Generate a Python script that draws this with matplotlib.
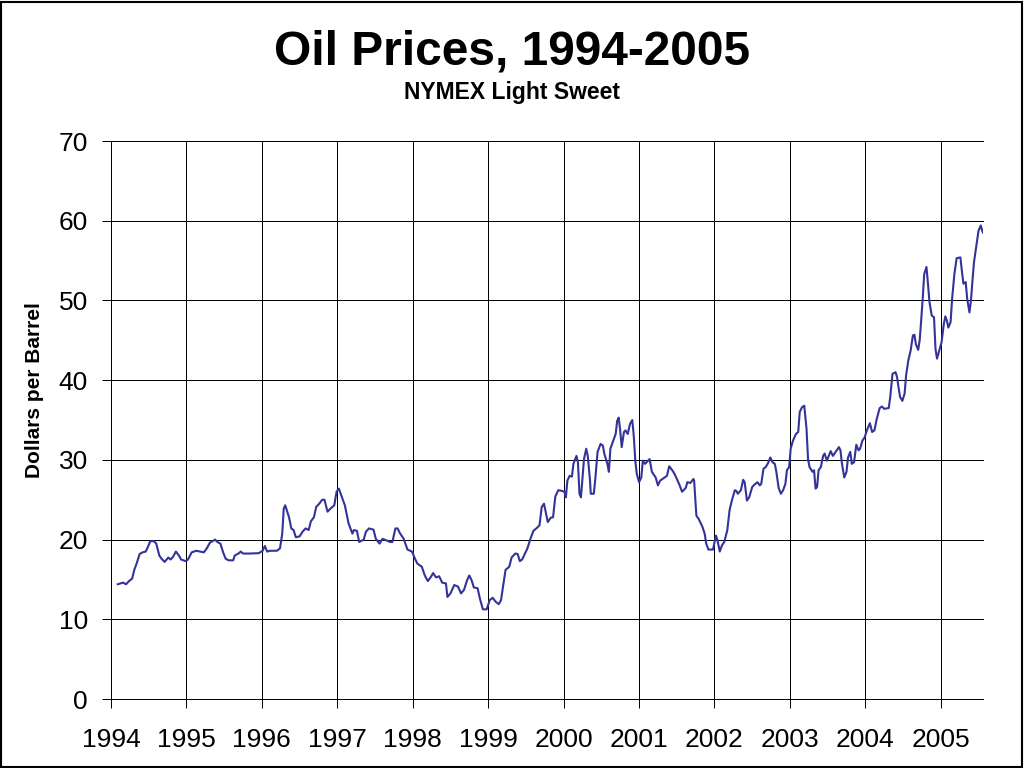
import matplotlib.pyplot as plt
from matplotlib.patches import Rectangle

plt.rcParams["font.family"] = ["Liberation Sans", "DejaVu Sans"]

# decimal year, price in $/barrel
years = [
    1994.09, 1994.16, 1994.20, 1994.24, 1994.28, 1994.31, 1994.34, 1994.38, 1994.42, 1994.46,
    1994.49, 1994.52, 1994.57, 1994.60, 1994.64, 1994.67, 1994.71, 1994.76, 1994.79, 1994.82,
    1994.86, 1994.90, 1994.93, 1994.99, 1995.02, 1995.07, 1995.13, 1995.18, 1995.23, 1995.27,
    1995.31, 1995.38, 1995.41, 1995.45, 1995.49, 1995.52, 1995.56, 1995.62, 1995.64, 1995.69,
    1995.72, 1995.75, 1995.84, 1995.96, 1996.01, 1996.04, 1996.07, 1996.11, 1996.20, 1996.24,
    1996.27, 1996.29, 1996.31, 1996.33, 1996.36, 1996.39, 1996.42, 1996.45, 1996.50, 1996.54,
    1996.58, 1996.62, 1996.65, 1996.69, 1996.72, 1996.76, 1996.80, 1996.83, 1996.87, 1996.91,
    1996.96, 1996.99, 1997.02, 1997.05, 1997.10, 1997.15, 1997.18, 1997.20, 1997.22, 1997.26,
    1997.29, 1997.35, 1997.38, 1997.42, 1997.48, 1997.51, 1997.56, 1997.60, 1997.65, 1997.70,
    1997.73, 1997.77, 1997.80, 1997.83, 1997.88, 1997.93, 1997.99, 1998.03, 1998.06, 1998.12,
    1998.16, 1998.20, 1998.24, 1998.27, 1998.31, 1998.35, 1998.39, 1998.44, 1998.46, 1998.50,
    1998.55, 1998.60, 1998.64, 1998.68, 1998.72, 1998.75, 1998.78, 1998.81, 1998.86, 1998.89,
    1998.93, 1998.98, 1999.02, 1999.06, 1999.10, 1999.14, 1999.17, 1999.20, 1999.23, 1999.28,
    1999.31, 1999.36, 1999.39, 1999.42, 1999.45, 1999.49, 1999.52, 1999.56, 1999.60, 1999.65,
    1999.68, 1999.71, 1999.74, 1999.79, 1999.83, 1999.86, 1999.89, 1999.93, 1999.98, 2000.01,
    2000.03, 2000.05, 2000.08, 2000.11, 2000.13, 2000.17, 2000.19, 2000.21, 2000.23, 2000.27,
    2000.30, 2000.32, 2000.35, 2000.36, 2000.40, 2000.42, 2000.45, 2000.49, 2000.52, 2000.54,
    2000.58, 2000.60, 2000.62, 2000.65, 2000.69, 2000.71, 2000.73, 2000.75, 2000.77, 2000.80,
    2000.82, 2000.85, 2000.88, 2000.91, 2000.93, 2000.95, 2000.97, 2001.00, 2001.03, 2001.05,
    2001.08, 2001.12, 2001.14, 2001.17, 2001.22, 2001.25, 2001.28, 2001.34, 2001.37, 2001.40,
    2001.44, 2001.47, 2001.53, 2001.57, 2001.62, 2001.64, 2001.68, 2001.72, 2001.73, 2001.76,
    2001.79, 2001.84, 2001.87, 2001.89, 2001.92, 2001.98, 2002.02, 2002.04, 2002.07, 2002.10,
    2002.13, 2002.17, 2002.20, 2002.23, 2002.27, 2002.29, 2002.31, 2002.35, 2002.38, 2002.40,
    2002.43, 2002.46, 2002.50, 2002.53, 2002.57, 2002.60, 2002.62, 2002.65, 2002.68, 2002.71,
    2002.74, 2002.77, 2002.80, 2002.82, 2002.85, 2002.88, 2002.91, 2002.94, 2002.96, 2002.99,
    2003.01, 2003.04, 2003.08, 2003.11, 2003.13, 2003.16, 2003.19, 2003.22, 2003.24, 2003.26,
    2003.30, 2003.32, 2003.34, 2003.36, 2003.38, 2003.41, 2003.44, 2003.46, 2003.49, 2003.54,
    2003.57, 2003.62, 2003.65, 2003.67, 2003.69, 2003.72, 2003.75, 2003.77, 2003.80, 2003.82,
    2003.85, 2003.88, 2003.91, 2003.93, 2003.96, 2003.99, 2004.02, 2004.06, 2004.09, 2004.12,
    2004.15, 2004.19, 2004.22, 2004.25, 2004.31, 2004.33, 2004.36, 2004.40, 2004.42, 2004.44,
    2004.46, 2004.49, 2004.52, 2004.54, 2004.57, 2004.60, 2004.63, 2004.65, 2004.67, 2004.70,
    2004.72, 2004.74, 2004.76, 2004.78, 2004.81, 2004.83, 2004.85, 2004.88, 2004.91, 2004.93,
    2004.95, 2004.98, 2005.01, 2005.04, 2005.06, 2005.08, 2005.10, 2005.13, 2005.15, 2005.18,
    2005.21, 2005.26, 2005.28, 2005.30, 2005.33, 2005.35, 2005.38, 2005.40, 2005.42, 2005.44,
    2005.48, 2005.50, 2005.53, 2005.55, 2005.56,
]
prices = [
    14.4, 14.6, 14.4, 14.8, 15.1, 16.25, 17.0, 18.2, 18.4, 18.5,
    19.1, 19.8, 19.8, 19.5, 18.0, 17.6, 17.2, 17.75, 17.5, 17.8,
    18.5, 18.0, 17.5, 17.3, 17.5, 18.4, 18.6, 18.5, 18.4, 18.9,
    19.6, 20.0, 19.7, 19.5, 18.3, 17.6, 17.4, 17.4, 18.0, 18.25,
    18.5, 18.25, 18.25, 18.3, 18.6, 19.2, 18.5, 18.6, 18.6, 18.9,
    20.75, 23.9, 24.3, 23.7, 22.8, 21.4, 21.2, 20.3, 20.4, 21.0,
    21.4, 21.2, 22.3, 22.8, 24.1, 24.5, 25.0, 25.0, 23.5, 23.9,
    24.3, 26.0, 26.4, 25.6, 24.3, 22.0, 21.25, 20.75, 21.2, 21.1,
    19.7, 20.0, 21.0, 21.4, 21.25, 20.1, 19.5, 20.1, 19.9, 19.7,
    19.7, 21.4, 21.4, 20.8, 20.1, 18.75, 18.5, 17.6, 17.0, 16.6,
    15.5, 14.8, 15.3, 15.8, 15.25, 15.4, 14.6, 14.5, 12.8, 13.25,
    14.3, 14.1, 13.25, 13.7, 14.9, 15.5, 14.9, 14.0, 13.9, 12.6,
    11.25, 11.25, 12.4, 12.7, 12.2, 11.9, 12.4, 14.3, 16.2, 16.6,
    17.75, 18.25, 18.2, 17.3, 17.5, 18.3, 18.9, 20.1, 21.1, 21.5,
    21.8, 24.1, 24.5, 22.2, 22.75, 22.8, 25.4, 26.2, 26.1, 26.0,
    25.3, 27.4, 28.0, 27.9, 29.5, 30.5, 29.7, 25.75, 25.3, 30.1,
    31.4, 30.5, 27.4, 25.75, 25.75, 27.6, 31.0, 32.0, 31.8, 30.75,
    29.5, 28.5, 31.4, 32.2, 33.25, 34.9, 35.3, 33.7, 31.6, 33.5,
    33.7, 33.25, 34.5, 35.0, 33.0, 29.9, 28.25, 27.2, 27.8, 29.9,
    29.5, 29.9, 30.1, 28.5, 27.8, 26.8, 27.4, 27.8, 28.0, 29.2,
    28.7, 28.25, 27.0, 26.0, 26.5, 27.2, 27.1, 27.6, 27.4, 23.0,
    22.6, 21.6, 20.75, 19.5, 18.75, 18.75, 20.5, 19.9, 18.5, 19.3,
    19.7, 21.2, 23.7, 24.9, 26.2, 26.1, 25.75, 26.2, 27.5, 27.2,
    24.9, 25.3, 26.6, 26.9, 27.2, 26.8, 27.0, 28.9, 29.1, 29.6,
    30.3, 29.7, 29.5, 28.5, 26.5, 25.75, 26.2, 27.0, 28.7, 29.1,
    31.4, 32.4, 33.25, 33.5, 36.0, 36.6, 36.8, 33.9, 30.1, 29.1,
    28.5, 28.7, 26.4, 26.6, 28.7, 29.1, 30.5, 30.8, 29.9, 31.1,
    30.5, 31.2, 31.6, 31.2, 29.5, 27.8, 28.5, 30.3, 31.0, 29.5,
    29.7, 31.9, 31.2, 31.4, 32.4, 32.8, 33.7, 34.6, 33.5, 33.7,
    35.1, 36.5, 36.7, 36.4, 36.5, 37.9, 40.8, 41.0, 40.4, 39.1,
    37.9, 37.4, 38.3, 40.6, 42.5, 43.7, 45.6, 45.7, 44.5, 43.8,
    45.0, 47.5, 50.2, 53.3, 54.2, 52.1, 49.8, 48.1, 47.9, 43.9,
    42.7, 43.7, 44.75, 47.05, 48.0, 47.5, 46.6, 47.3, 50.2, 53.3,
    55.3, 55.4, 53.65, 52.1, 52.3, 50.2, 48.5, 50.0, 52.5, 54.8,
    57.5, 58.75, 59.4, 58.7, 58.5,
]
year_ticks = list(range(1994, 2006))
price_ticks = list(range(0, 71, 10))

fig = plt.figure(figsize=(10.24, 7.68), dpi=100, facecolor="white")
ax = fig.add_axes([0.1084, 0.0898, 0.8516, 0.7266])

ax.plot(years, prices, color="#333399", linewidth=1.5)

ax.set_xlim(1994, years[-1])
ax.set_ylim(0, 70)
ax.set_xticks(year_ticks)
ax.set_xticklabels([str(y) for y in year_ticks])
ax.set_yticks(price_ticks)
ax.grid(True, color="black", linewidth=0.72, antialiased=False)
ax.set_axisbelow(True)
# keep the edge gridlines (0, 70, 1994) whole
for gl in ax.get_xgridlines() + ax.get_ygridlines():
    gl.set_clip_on(False)
for s in ax.spines.values():
    s.set_visible(False)
ax.tick_params(axis="both", length=6.5, width=0.72, color="black", labelsize=19)
ax.tick_params(axis="x", pad=14)
ax.tick_params(axis="y", pad=10)

fig.text(0.5, 1 - 65 / 768, "Oil Prices, 1994-2005", ha="center", va="baseline",
         fontsize=34.5, fontweight="bold")
fig.text(0.5, 1 - 99 / 768, "NYMEX Light Sweet", ha="center", va="baseline",
         fontsize=16.5, fontweight="bold")
fig.text(35 / 1024, 1 - 390 / 768, "Dollars per Barrel", rotation=90, ha="center",
         va="center", fontsize=15, fontweight="bold")

# black frame around the whole picture
fig.patches.append(Rectangle((0.001, 0.001), 0.997, 0.997, transform=fig.transFigure,
                             fill=False, edgecolor="black", linewidth=1.5))

fig.savefig("out.png", dpi=100, facecolor="white")
